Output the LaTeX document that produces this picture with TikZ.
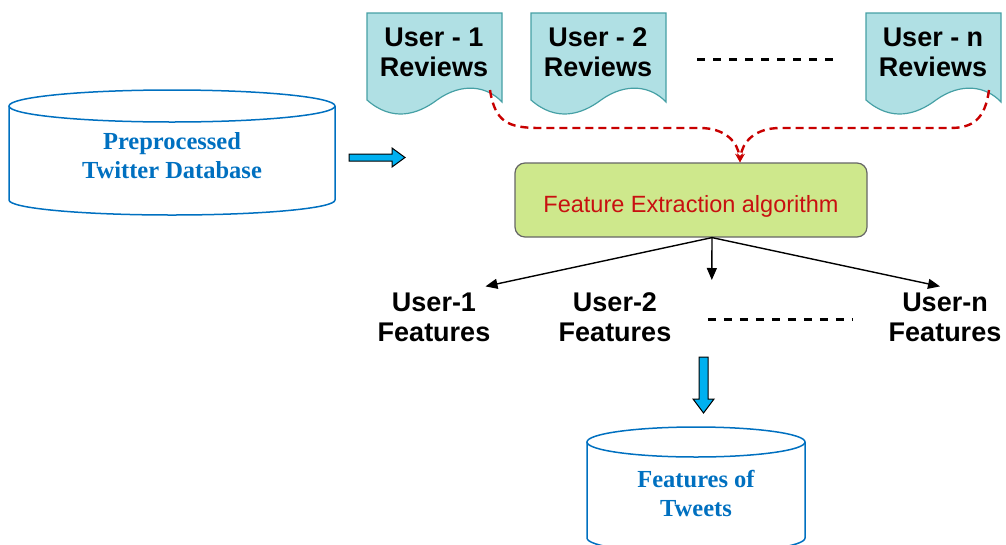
\documentclass[tikz,border=0pt]{standalone}
\usepackage{fontspec}
\setmainfont{Liberation Serif}
\setsansfont{Liberation Sans}
\usetikzlibrary{arrows.meta,positioning}

\definecolor{docfill}{RGB}{176,224,228}
\definecolor{docline}{RGB}{70,160,165}
\definecolor{dbblue}{RGB}{0,112,192}
\definecolor{algofill}{RGB}{206,232,140}
\definecolor{algotext}{RGB}{200,16,16}
\definecolor{arrowblue}{RGB}{0,176,240}
\definecolor{linkred}{RGB}{200,0,0}

\tikzset{
    doclabel/.style={font=\sffamily\bfseries\fontsize{27}{30}\selectfont, align=center, inner sep=1pt},
    dblabel/.style={font=\bfseries\fontsize{24.5}{29}\selectfont, text=dbblue, align=center},
    cyl/.style={draw=dbblue, line width=1.5pt},
    blockarrow/.style={fill=arrowblue, draw=black, line width=1pt},
    link/.style={draw=linkred, dash pattern=on 8pt off 5pt, line width=2.4pt, -{Stealth[length=9pt,width=8pt]}},
    featarrow/.style={draw=black, line width=1.4pt, -{Triangle[length=12pt,width=10pt]}},
    dashrow/.style={draw=black, dash pattern=on 8pt off 8pt, line width=3pt},
}

\begin{document}
\begin{tikzpicture}[x=1pt, y=-1pt]
    \useasboundingbox (0,0) rectangle (1006,544);

    % Preprocessed database (cylinder)
    \draw[cyl] (172,106) ellipse [x radius=163, y radius=16];
    \draw[cyl] (9,106) -- (9,200) arc[start angle=180, end angle=0, x radius=163, y radius=15] -- (335,106);
    \node[dblabel] (predb) at (172,156) {Preprocessed\\Twitter Database};

    % block arrow to the reviews
    \draw[blockarrow] (349,154) -- (392,154) -- (392,148) -- (405,157.5) -- (392,167) -- (392,161) -- (349,161) -- cycle;

    % Review documents
    \foreach \nm/\x/\lbl in {u1/367/1, u2/531/2, un/866/n}{
        \draw[fill=docfill, draw=docline, line width=1.2pt]
            (\x,13) -- (\x+135,13) -- (\x+135,102)
            .. controls (\x+120,86) and (\x+95,82) .. (\x+70,100)
            .. controls (\x+50,115) and (\x+25,122) .. (\x,100) -- cycle;
        \node[doclabel] (\nm) at (\x+67,52) {User - \lbl\\Reviews};
        \coordinate (\nm tail) at (\x+123,90);
    }
    \draw[dashrow] (697,59) -- (840,59);

    % Feature extraction
    \node[draw=gray!80!black, line width=1.2pt, fill=algofill, rounded corners=10pt,
          minimum width=352pt, minimum height=74pt, text=algotext, text height=26pt, text depth=2pt,
          font=\sffamily\fontsize{23.5}{26}\selectfont] (fe) at (691,200) {Feature Extraction algorithm};
    \coordinate (merge) at ([xshift=49pt]fe.north);
    \draw[link] (u1tail) .. controls (495,122) and (508,128) .. (540,128) -- (700,128)
        .. controls (725,128) and (738,142) .. (merge);
    \draw[link] (untail) .. controls (985,120) and (972,128) .. (950,128) -- (780,128)
        .. controls (755,128) and (742,142) .. (merge);

    % Features per user
    \node[doclabel] (f1) at (434,317) {User-1\\Features};
    \node[doclabel] (f2) at (615,317) {User-2\\Features};
    \node[doclabel] (fn) at (945,317) {User-n\\Features};
    \node[inner sep=0pt, minimum width=144pt] (fdots) at (780,319) {};
    \draw[dashrow] (fdots.west) -- (fdots.east);

    \coordinate (split) at ([xshift=21pt]fe.south);
    \draw[featarrow] (split) -- ([xshift=-6pt,yshift=5pt]f1.north east);
    \draw[featarrow] (split) -- ([xshift=4pt,yshift=39pt]fdots.west);
    \draw[featarrow] (split) -- ([xshift=-5pt,yshift=5pt]fn.north);

    % block arrow down
    \draw[blockarrow] (699,357) -- (708,357) -- (708,399) -- (714,399) -- (703.5,413) -- (693,399) -- (699,399) -- cycle;

    % Features database (cylinder, cut at the bottom)
    \begin{scope}
        \clip (0,0) rectangle (1006,544);
        \draw[cyl] (696,442) ellipse [x radius=109, y radius=15];
        \draw[cyl] (587,442) -- (587,538) arc[start angle=180, end angle=0, x radius=109, y radius=15] -- (805,442);
    \end{scope}
    \node[dblabel] (tweetdb) at (696,493) {Features of\\Tweets};
\end{tikzpicture}
\end{document}
